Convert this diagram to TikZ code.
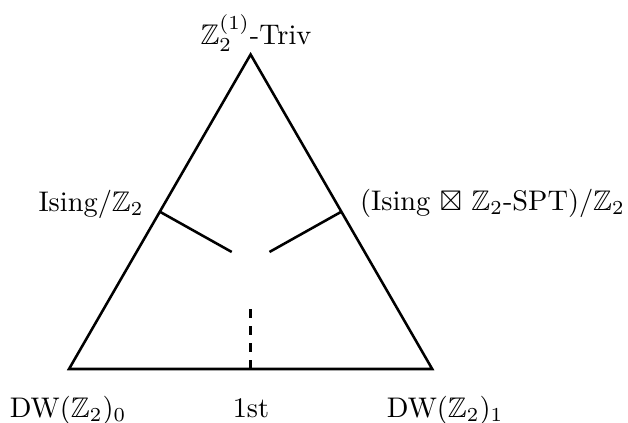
\documentclass[tikz,border=0pt]{standalone}
\usepackage{amsfonts}
\usepackage{amsmath}
\usepackage{amssymb}
\usepackage{tikz}

\begin{document}
\begin{tikzpicture}[line width=0.9pt]
  \useasboundingbox (-0.855,-0.669) rectangle (6.926,4.572);
  \coordinate (dw0) at (0,0);
  \coordinate (dw1) at (4.5,0);
  \coordinate (triv) at (2.25,3.897);
  \coordinate (isg) at (1.125,1.949);
  \coordinate (spt) at (3.375,1.949);
  \coordinate (fst) at (2.25,0);
  \coordinate (isgend) at (2.016,1.45);
  \coordinate (sptend) at (2.484,1.45);
  \coordinate (fstend) at (2.25,0.82);
  \draw (dw0) -- (dw1) -- (triv) -- cycle;
  \draw (isg) -- (isgend);
  \draw (spt) -- (sptend);
  \draw[dashed] (fst) -- (fstend);
  \node (trivlab) at (2.317,4.163) {$\mathbb{Z}_2^{(1)}$-Triv};
  \node (isglab) at (0.273,2.044) {Ising$/\mathbb{Z}_2$};
  \node (sptlab) at (5.247,2.05) {(Ising $\boxtimes$ $\mathbb{Z}_2$-SPT)$/\mathbb{Z}_2$};
  \node[anchor=base] (dw0lab) at (-0.012,-0.595) {DW$(\mathbb{Z}_2)_0$};
  \node[anchor=base] (fstlab) at (2.255,-0.595) {1st};
  \node[anchor=base] (dw1lab) at (4.66,-0.595) {DW$(\mathbb{Z}_2)_1$};
\end{tikzpicture}
\end{document}
